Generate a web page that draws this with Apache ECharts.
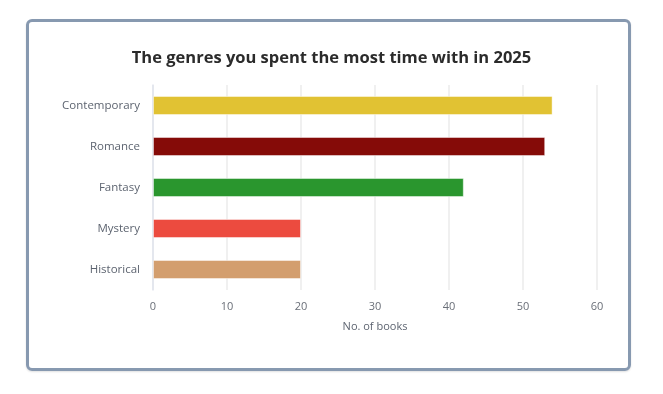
<!DOCTYPE html>
<html>
<head>
<meta charset="utf-8">
<script src="https://cdn.jsdelivr.net/npm/echarts@6/dist/echarts.min.js"></script>
<style>
  html, body { margin: 0; padding: 0; background: #fff; width: 663px; height: 394px; overflow: hidden; }
  #card { position: absolute; left: 26px; top: 19px; width: 599px; height: 346px; border: 3px solid #8799b0; border-radius: 6px; box-shadow: 0 1px 2px rgba(0,0,0,0.12); }
  #chart { position: absolute; left: 0; top: 0; width: 663px; height: 394px; }
</style>
</head>
<body>
<div id="card"></div>
<div id="chart"></div>
<script>
const titleText = "The genres you spent the most time with in 2025";
const categories = ["Contemporary", "Romance", "Fantasy", "Mystery", "Historical"];
const books = [54, 53, 42, 20, 20];
const barColors = ["#e1c233", "#850b08", "#2a962e", "#ec4b3f", "#d39e6e"];
const xTicks = { min: 0, max: 60, interval: 10 };
const xAxisName = "No. of books";

const font = "'Open Sans', 'Noto Sans', sans-serif";
const chart = echarts.init(document.getElementById('chart'), null, { renderer: 'canvas' });
chart.setOption({
  backgroundColor: 'transparent',
  animation: false,
  title: {
    text: titleText,
    left: 'center',
    top: 45,
    textStyle: { fontFamily: font, fontSize: 16.5, fontWeight: 'bold', color: '#2b2b2b' }
  },
  grid: { left: 153, right: 66, top: 85, height: 205, containLabel: false },
  xAxis: {
    type: 'value',
    min: xTicks.min, max: xTicks.max, interval: xTicks.interval,
    name: xAxisName, nameLocation: 'middle', nameGap: 31,
    nameTextStyle: { fontFamily: font, fontSize: 11, color: '#5d6470' },
    axisLine: { show: false },
    axisTick: { show: false },
    axisLabel: { fontFamily: font, fontSize: 11, color: '#6a6f78', margin: 11 },
    splitLine: { show: true, lineStyle: { color: '#ebebeb', width: 1.5 } }
  },
  yAxis: {
    type: 'category',
    data: categories,
    inverse: true,
    axisLine: { show: true, lineStyle: { color: '#e0e4ee', width: 1.5 } },
    axisTick: { show: false },
    axisLabel: { fontFamily: font, fontSize: 11.5, color: '#5d6470', margin: 13 },
    splitLine: { show: false }
  },
  series: [{
    type: 'bar',
    data: books.map((v, i) => ({ value: v, itemStyle: { color: barColors[i] } })),
    barWidth: 19,
    itemStyle: { borderColor: 'rgba(255,255,255,0.45)', borderWidth: 1 }
  }]
});
</script>
</body>
</html>
